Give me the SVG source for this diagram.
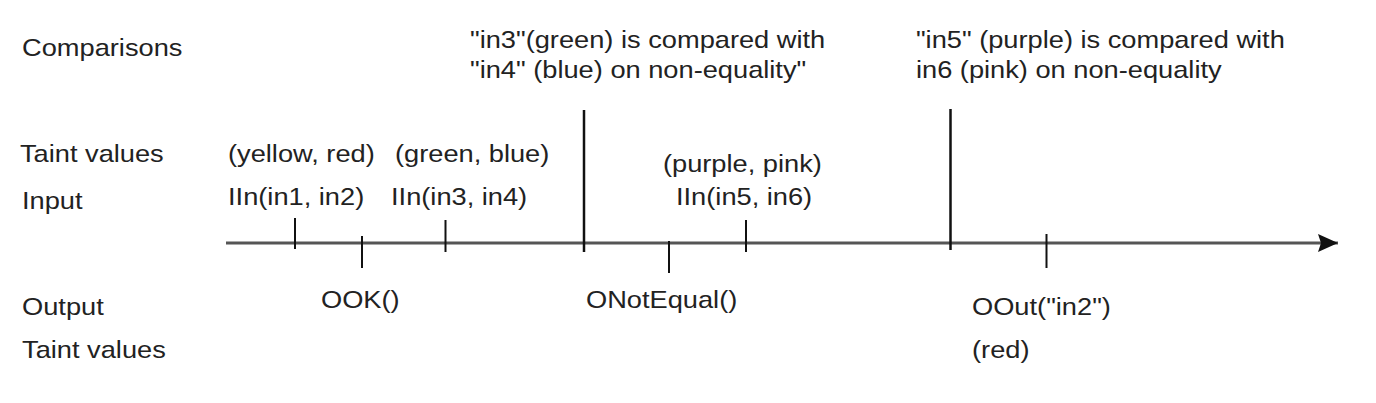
<svg xmlns="http://www.w3.org/2000/svg" width="1376" height="403" viewBox="0 0 1376 403">
<style>
text{font-family:"Liberation Sans",Arial,sans-serif;font-size:24px;fill:#222}
.tick{stroke:#111;stroke-width:2}
.big{stroke:#111;stroke-width:2.5}
.axis{stroke:#555;stroke-width:3}
</style>
<defs>
<marker id="arr" markerWidth="22" markerHeight="20" refX="20" refY="9" orient="auto" markerUnits="userSpaceOnUse">
<path d="M0,0 L20,9 L0,18 L3,9 Z" fill="#111"/>
</marker>
</defs>
<rect width="1376" height="403" fill="#fff"/>
<g id="connectors">
<line class="axis" x1="226" y1="243" x2="1338" y2="243" marker-end="url(#arr)"/>
<line class="tick" x1="295" y1="218" x2="295" y2="249"/>
<line class="tick" x1="362" y1="236" x2="362" y2="268"/>
<line class="tick" x1="445.5" y1="220" x2="445.5" y2="252"/>
<line class="big" x1="584" y1="110" x2="584" y2="252"/>
<line class="tick" x1="669" y1="241" x2="669" y2="273"/>
<line class="tick" x1="746" y1="220" x2="746" y2="252"/>
<line class="big" x1="950.5" y1="109" x2="950.5" y2="250"/>
<line class="tick" x1="1046.5" y1="234" x2="1046.5" y2="268"/>
</g>
<g transform="scale(1.135 1)">
<g id="labels">
<text x="19.4" y="56">Comparisons</text>
<text x="17.6" y="162">Taint values</text>
<text x="19.4" y="209">Input</text>
<text x="19.4" y="315">Output</text>
<text x="19.4" y="358">Taint values</text>
</g>
<g id="cmp1"><text x="414.1" y="48">"in3"(green) is compared with</text><text x="414.1" y="78">"in4" (blue) on non-equality"</text></g>
<g id="cmp2"><text x="807" y="48">"in5" (purple) is compared with</text><text x="807" y="78">in6 (pink) on non-equality</text></g>
<g id="in12"><text x="200.9" y="162">(yellow, red)</text><text x="200.9" y="205">IIn(in1, in2)</text></g>
<g id="in34"><text x="348" y="162">(green, blue)</text><text x="344.5" y="205">IIn(in3, in4)</text></g>
<g id="in56"><text x="584.1" y="172">(purple, pink)</text><text x="595.6" y="205">IIn(in5, in6)</text></g>
<g id="ook"><text x="282.8" y="308">OOK()</text></g>
<g id="onotequal"><text x="516.3" y="308">ONotEqual()</text></g>
<g id="oout"><text x="856.4" y="315">OOut("in2")</text><text x="856.4" y="358">(red)</text></g>
</g>
</svg>
